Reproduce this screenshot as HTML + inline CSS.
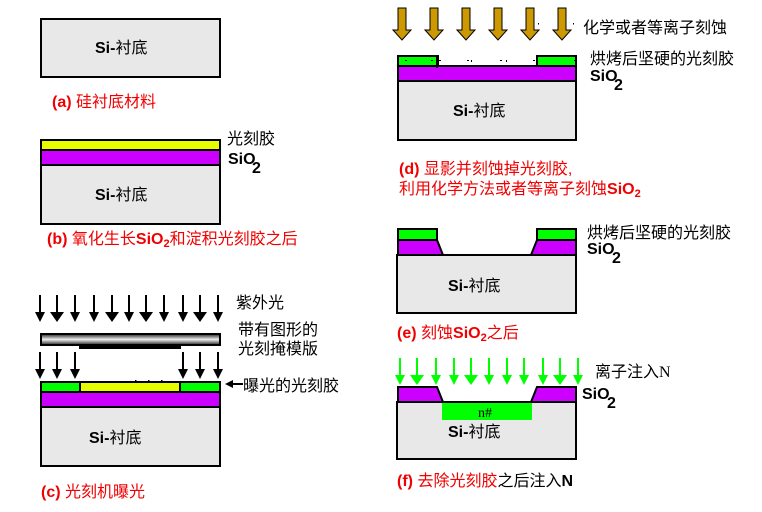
<!DOCTYPE html>
<html><head><meta charset="utf-8"><style>
html,body{margin:0;padding:0;background:#fff}
svg{display:block}
text{font-family:"Liberation Sans","Noto Sans CJK SC",sans-serif;font-size:16px}
.b{font-weight:bold}
.r{fill:#f00000;font-weight:bold}
.c{font-weight:normal}
.sio{font-weight:bold;font-size:16px}
.box{stroke:#000;stroke-width:2}
.sub{font-size:11px}
</style></head><body>
<svg width="762" height="512" viewBox="0 0 762 512" xmlns="http://www.w3.org/2000/svg">
<defs>
<linearGradient id="g" x1="0" y1="0" x2="0" y2="1"><stop offset="0" stop-color="#222"/><stop offset=".5" stop-color="#f0f0f0"/><stop offset="1" stop-color="#222"/></linearGradient>
<g id="bk"><path d="M0 0V17" stroke="#000" stroke-width="2" fill="none"/><path d="M-5 17H5L0 27Z" fill="#000"/></g>
<g id="bw"><path d="M0 0V17" stroke="#000" stroke-width="2" fill="none"/><path d="M-7 17H7L0 27Z" fill="#000"/></g>
<g id="gr"><path d="M0 0V17" stroke="#00ff00" stroke-width="2" fill="none"/><path d="M-5 17H5L0 27Z" fill="#00ff00"/></g>
<g id="gw"><path d="M0 0V17" stroke="#00ff00" stroke-width="2" fill="none"/><path d="M-7 17H7L0 27Z" fill="#00ff00"/></g>
<path id="br" d="M-4 0H4V22H9L0 32L-9 22H-4Z" fill="#cc9900" stroke="#000" stroke-width="1"/>
</defs>

<!-- a -->
<rect class="box" x="41" y="19" width="179" height="58" fill="#e8e8e8"/>
<text x="95" y="53" class="b">Si-<tspan class="c">衬底</tspan></text>
<text x="52" y="107" class="r">(a) <tspan class="c">硅衬底材料</tspan></text>

<!-- b -->
<rect class="box" x="41" y="140" width="179" height="10" fill="#e5ff00"/>
<rect class="box" x="41" y="150" width="179" height="15" fill="#cc00ff"/>
<rect class="box" x="41" y="165" width="179" height="59" fill="#e8e8e8"/>
<text x="95" y="200" class="b">Si-<tspan class="c">衬底</tspan></text>
<text x="227" y="144">光刻胶</text>
<text x="228" y="164" class="sio">SiO</text><text x="252" y="173" class="sio">2</text>
<text x="47" y="244" class="r">(b) <tspan class="c">氧化生长</tspan>SiO<tspan dy="3" class="sub">2</tspan><tspan dy="-3" class="c">和淀积光刻胶之后</tspan></text>

<!-- c -->
<use href="#bk" x="40" y="295"/><use href="#bw" x="57" y="295"/><use href="#bk" x="75" y="295"/><use href="#bk" x="94" y="295"/><use href="#bw" x="112" y="295"/><use href="#bk" x="129" y="295"/><use href="#bw" x="146" y="295"/><use href="#bk" x="164" y="295"/><use href="#bk" x="183" y="295"/><use href="#bw" x="200" y="295"/><use href="#bk" x="218" y="295"/>
<text x="236" y="308">紫外光</text>
<text x="238" y="335">带有图形的</text>
<text x="238" y="354">光刻掩模版</text>
<rect x="41" y="334" width="179" height="11" fill="url(#g)" stroke="#000" stroke-width="2"/>
<rect x="79" y="345" width="102" height="4" fill="#000"/>
<use href="#bk" x="40" y="352"/><use href="#bk" x="57" y="352"/><use href="#bk" x="75" y="352"/><use href="#bk" x="183" y="352"/><use href="#bk" x="200" y="352"/><use href="#bk" x="218" y="352"/>
<rect class="box" x="41" y="382" width="179" height="10" fill="#00ff00"/>
<rect x="80" y="382" width="100" height="10" fill="#e5ff00"/>
<path d="M80 382V393M180 382V393" stroke="#000" stroke-width="2"/>
<path d="M41 382H220" stroke="#000" stroke-width="2"/>
<rect class="box" x="41" y="392" width="179" height="15" fill="#cc00ff"/>
<rect class="box" x="41" y="407" width="179" height="59" fill="#e8e8e8"/>
<text x="89" y="443" class="b">Si-<tspan class="c">衬底</tspan></text>
<path d="M135 380h1.500v1h-1.500zM148 380h1.500v1h-1.500zM161 380h1.500v1h-1.500z" fill="#000"/>
<path d="M225 384L233 380V383H243V385H233V388Z" fill="#000"/>
<text x="243" y="391">曝光的光刻胶</text>
<text x="41" y="497" class="r">(c) <tspan class="c">光刻机曝光</tspan></text>

<!-- d -->
<use href="#br" x="402" y="8"/><use href="#br" x="434" y="8"/><use href="#br" x="466" y="8"/><use href="#br" x="498" y="8"/><use href="#br" x="530" y="8"/><use href="#br" x="562" y="8"/>
<text x="583" y="33">化学或者等离子刻蚀</text>
<path d="M538 23h1v1.500h-1zM573 23h1v1.500h-1z" fill="#000"/>
<rect class="box" x="398" y="56" width="40" height="10" fill="#00ff00"/>
<rect class="box" x="537" y="56" width="39" height="10" fill="#00ff00"/>
<rect class="box" x="398" y="66" width="178" height="15" fill="#cc00ff"/>
<rect class="box" x="398" y="81" width="178" height="59" fill="#e8e8e8"/>
<path d="M437 56V68" stroke="#000" stroke-width="2"/>
<path d="M405 60h2v1h-2zM431 60h2v1h-2zM439 60h2v1h-2zM467 60h2v1h-2zM471 60h1v2h-1zM500 60h2v1h-2zM506 60h1v2h-1zM533 60h2v1h-2zM574 60h2v1h-2z" fill="#000"/>
<text x="453" y="116" class="b">Si-<tspan class="c">衬底</tspan></text>
<text x="590" y="64">烘烤后坚硬的光刻胶</text>
<text x="590" y="81" class="sio">SiO</text><text x="614" y="90" class="sio">2</text>
<text x="399" y="174" class="r">(d) <tspan class="c">显影并刻蚀掉光刻胶,</tspan></text>
<text x="399" y="194" class="r"><tspan class="c">利用化学方法或者等离子刻蚀</tspan>SiO<tspan dy="3" class="sub">2</tspan></text>

<!-- e -->
<path class="box" d="M398 255V240H437L443 255Z" fill="#cc00ff"/>
<path class="box" d="M576 255V240H537L531 255Z" fill="#cc00ff"/>
<rect class="box" x="398" y="229" width="39" height="11" fill="#00ff00"/>
<rect class="box" x="537" y="229" width="39" height="11" fill="#00ff00"/>
<rect class="box" x="397" y="255" width="179" height="58" fill="#e8e8e8"/>
<text x="448" y="291" class="b">Si-<tspan class="c">衬底</tspan></text>
<text x="587" y="238">烘烤后坚硬的光刻胶</text>
<text x="587" y="254" class="sio">SiO</text><text x="612" y="263" class="sio">2</text>
<text x="397" y="338" class="r">(e) <tspan class="c">刻蚀</tspan>SiO<tspan dy="3" class="sub">2</tspan><tspan dy="-3" class="c">之后</tspan></text>

<!-- f -->
<use href="#gr" x="400" y="358"/><use href="#gw" x="417" y="358"/><use href="#gr" x="436" y="358"/><use href="#gr" x="454" y="358"/><use href="#gw" x="471" y="358"/><use href="#gr" x="489" y="358"/><use href="#gr" x="507" y="358"/><use href="#gr" x="524" y="358"/><use href="#gr" x="543" y="358"/><use href="#gw" x="560" y="358"/><use href="#gr" x="578" y="358"/>
<path class="box" d="M398 402V387H437L443 402Z" fill="#cc00ff"/>
<path class="box" d="M576 402V387H537L531 402Z" fill="#cc00ff"/>
<rect class="box" x="397" y="402" width="179" height="57" fill="#e8e8e8"/>
<rect x="442" y="403" width="90" height="17" fill="#00ff00"/>
<text x="478" y="417" style="font-family:'Liberation Serif',serif;font-size:14px">n#</text>
<text x="448" y="437" class="b">Si-<tspan class="c">衬底</tspan></text>
<text x="595" y="377">离子注入<tspan style="font-family:'Liberation Serif',serif">N</tspan></text>
<text x="582" y="399" class="sio">SiO</text><text x="607" y="408" class="sio">2</text>
<text x="397" y="486" class="r">(f) <tspan class="c">去除光刻胶</tspan><tspan class="c" fill="#000">之后注入</tspan><tspan fill="#000">N</tspan></text>
</svg>
</body></html>
